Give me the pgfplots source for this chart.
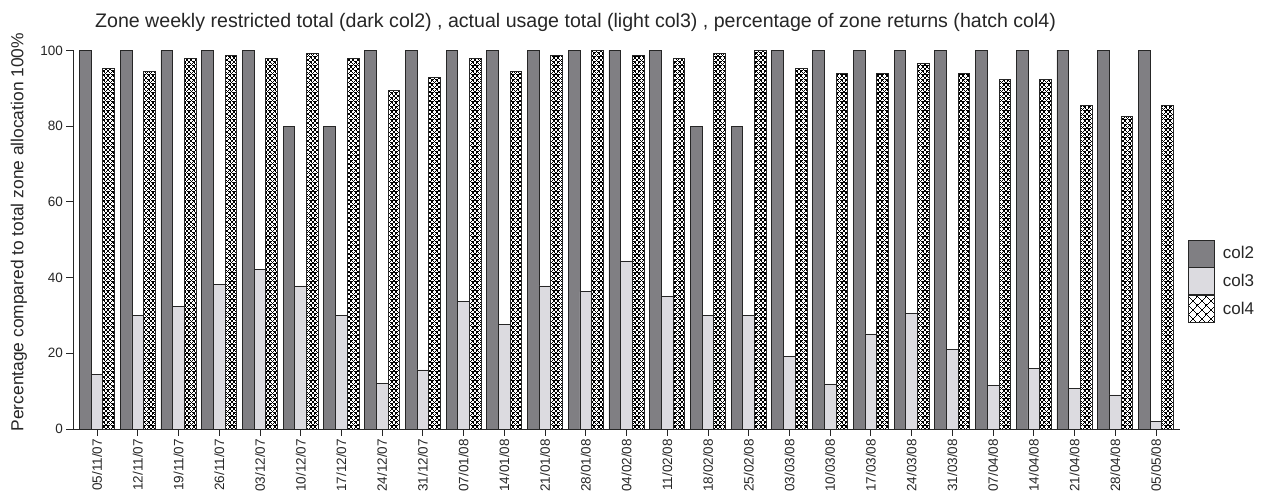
\documentclass[border=0pt]{standalone}
\usepackage{fontspec}
\setmainfont{Liberation Sans}
\usepackage{pgfplots}
\pgfplotsset{compat=1.18}
\usepackage{pgfplotstable}
\usetikzlibrary{patterns.meta}

\tikzdeclarepattern{
  name=densecross,
  type=uncolored,
  bottom left={(-0.5bp,-0.5bp)},
  top right={(5bp,5bp)},
  tile size={(4.5bp,4.5bp)},
  code={
    \tikzset{line width=1.7bp}
    \draw (-0.5bp,-0.5bp) -- (5bp,5bp);
    \draw (-0.5bp,5bp) -- (5bp,-0.5bp);
  }
}
\tikzdeclarepattern{
  name=bigcross,
  type=uncolored,
  bottom left={(-0.5bp,-0.5bp)},
  top right={(9.5bp,9.5bp)},
  tile size={(9bp,9bp)},
  code={
    \tikzset{line width=2.4bp}
    \draw (-0.5bp,-0.5bp) -- (9.5bp,9.5bp);
    \draw (-0.5bp,9.5bp) -- (9.5bp,-0.5bp);
  }
}

\definecolor{darkbar}{RGB}{128,127,131}
\definecolor{lightbar}{RGB}{220,219,224}

\pgfplotsset{
  mylegend/.style={legend image code/.code={\draw[##1] (0bp,-13.5bp) rectangle (26bp,13.5bp);}}
}

\pgfplotstableread{
x c2 c3 c4
0 100 14.5 95.3
1 100 29.9 94.6
2 100 32.4 97.9
3 100 38.2 98.7
4 100 42.2 97.9
5 80 37.8 99.3
6 80 29.9 97.9
7 100 12.0 89.5
8 100 15.6 93.0
9 100 33.8 97.8
10 100 27.7 94.6
11 100 37.8 98.6
12 100 36.3 99.9
13 100 44.4 98.7
14 100 35.0 97.8
15 80 30.1 99.3
16 80 29.9 100
17 100 19.1 95.3
18 100 11.9 93.9
19 100 25.1 93.9
20 100 30.5 96.5
21 100 21.1 93.9
22 100 11.5 92.4
23 100 15.9 92.4
24 100 10.8 85.5
25 100 9.0 82.6
26 100 2.1 85.5
}\datatable

\begin{document}
\begin{tikzpicture}
\useasboundingbox (-73bp,-74bp) rectangle (1190bp,429bp);
\begin{axis}[
  at={(0,0)}, anchor=south west,
  scale only axis, width=1107bp, height=378.5bp,
  xmin=-0.59, xmax=26.59, ymin=0, ymax=100,
  ybar=0pt, bar width=11.7bp,
  every axis plot post/.append style={mylegend},
  axis x line=bottom, axis y line=left,
  axis line style={-, line width=0.8bp, black!85},
  tick style={line width=0.8bp, black!85},
  tick align=outside,
  xtick pos=bottom, ytick pos=left,
  major tick length=6.5bp,
  xtick={0,...,26},
  xticklabels={05/11/07,12/11/07,19/11/07,26/11/07,03/12/07,10/12/07,17/12/07,24/12/07,31/12/07,07/01/08,14/01/08,21/01/08,28/01/08,04/02/08,11/02/08,18/02/08,25/02/08,03/03/08,10/03/08,17/03/08,24/03/08,31/03/08,07/04/08,14/04/08,21/04/08,28/04/08,05/05/08},
  x tick label style={rotate=90, anchor=east, font=\fontsize{13.5bp}{16bp}\selectfont, text=black!85},
  ytick={0,20,40,60,80,100},
  y tick label style={font=\fontsize{13.5bp}{16bp}\selectfont, text=black!85},
  /pgf/number format/assume math mode=true,
  ylabel={Percentage compared to total zone allocation 100\%},
  ylabel style={at={(axis description cs:-0.049,0.52)}, anchor=center, font=\fontsize{17.4bp}{20bp}\selectfont, text=black!85},
  title={Zone weekly restricted total (dark col2) , actual usage total (light col3) , percentage of zone returns (hatch col4)},
  title style={at={(axis description cs:0.454,1.058)}, anchor=center, font=\fontsize{19.6bp}{22bp}\selectfont, text=black!85},
  legend style={at={(axis description cs:1.0072,0.39)}, anchor=west, draw=none, fill=none, inner sep=0pt, row sep=0pt, column sep=8bp, nodes={inner sep=0pt}, font=\fontsize{17bp}{20bp}\selectfont, text=black!85},
  legend cell align=left,
  clip=false,
]
\addplot[fill=darkbar, draw=black!85, line width=0.8bp] table[x=x, y=c2] {\datatable};
\addplot[fill=lightbar, draw=black!85, line width=0.8bp] table[x=x, y=c3] {\datatable};
\addplot[pattern={densecross}, pattern color=black, draw=black!85, line width=0.8bp, legend image post style={pattern={bigcross}}] table[x=x, y=c4] {\datatable};
\legend{col2, col3, col4}
\end{axis}
\end{tikzpicture}
\end{document}
